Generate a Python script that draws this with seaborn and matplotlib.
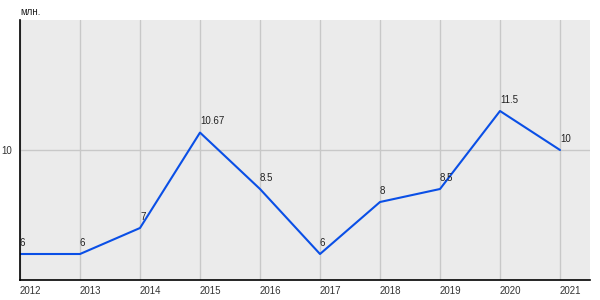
import matplotlib
matplotlib.use("Agg")
import matplotlib.pyplot as plt
import seaborn as sns
import pandas as pd

years = [2012, 2013, 2014, 2015, 2016, 2017, 2018, 2019, 2020, 2021]
values = [6, 6, 7, 10.67, 8.5, 6, 8, 8.5, 11.5, 10]
labels = ["6", "6", "7", "10.67", "8.5", "6", "8", "8.5", "11.5", "10"]
y_ticks = [10]
unit = "млн."

sns.set_theme(style="white")
plt.rcParams['font.family'] = ['Liberation Sans', 'DejaVu Sans']

df = pd.DataFrame({"year": years, "value": values})

fig = plt.figure(figsize=(6, 3), dpi=100)
ax = fig.add_axes([20/600, 20/300, 570/600, 260/300])
ax.set_facecolor("#EBEBEB")

sns.lineplot(data=df, x="year", y="value", ax=ax, color="#0A4FE6", linewidth=1.5)

ax.set_xlim(2012, 2021.5)
ax.set_ylim(5, 15)
ax.set_xticks(years)
ax.set_xticklabels([str(y) for y in years], ha="left")
ax.set_yticks(y_ticks)
ax.set_yticklabels([str(t) for t in y_ticks])
ax.grid(True, color="#C8C8C8", linewidth=1)
ax.set_axisbelow(True)
ax.set_xlabel("")
ax.set_ylabel("")

for s in ["top", "right"]:
    ax.spines[s].set_visible(False)
for s in ["left", "bottom"]:
    ax.spines[s].set_color("black")
    ax.spines[s].set_linewidth(1.2)

ax.tick_params(axis="x", length=0, pad=4, labelsize=7, colors="#333333")
ax.tick_params(axis="y", length=4, width=1, pad=2, labelsize=7, colors="#333333")
ax.tick_params(axis="y", color="black")

for x, y, t in zip(years, values, labels):
    ax.annotate(t, (x, y), xytext=(0, 4.5), textcoords="offset points",
                ha="left", va="bottom", fontsize=7, color="#222222")

fig.text(20/600, 1 - 12/300, unit, ha="left", va="center", fontsize=7, color="#222222")

fig.savefig("out.png", dpi=100)
